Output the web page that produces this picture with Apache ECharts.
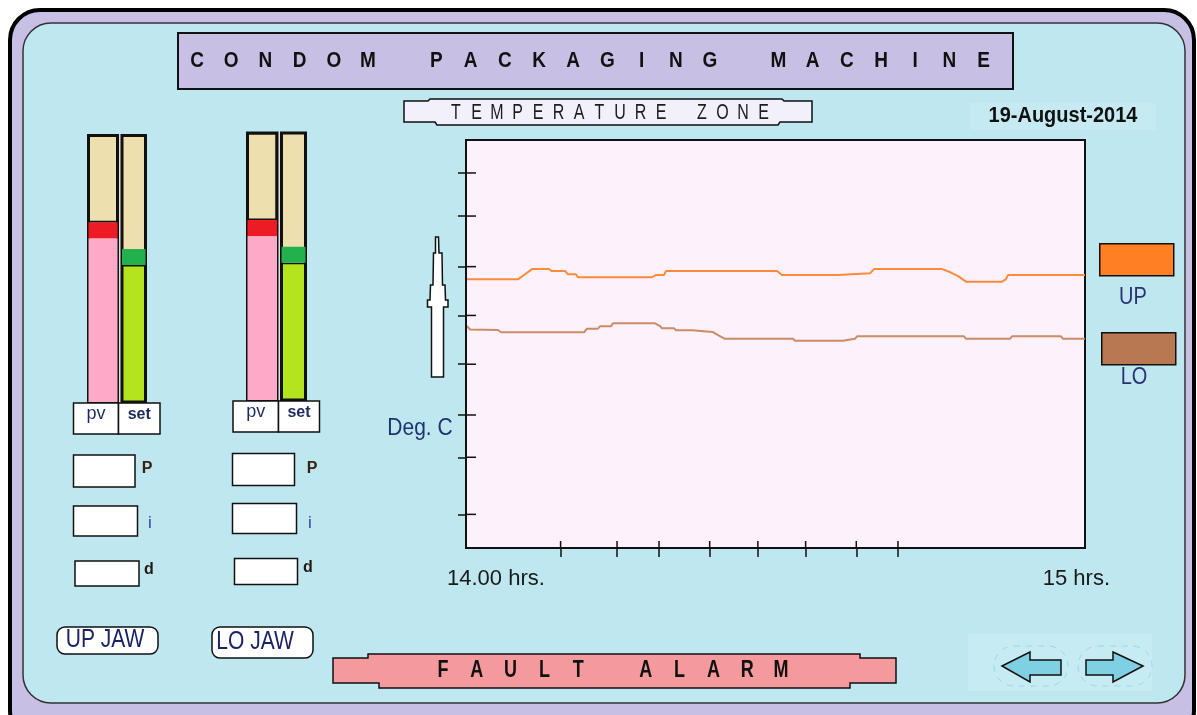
<!DOCTYPE html>
<html>
<head>
<meta charset="utf-8">
<script src="https://cdn.jsdelivr.net/npm/echarts@6/dist/echarts.min.js"></script>
<style>
html, body {margin:0; padding:0; background:#fff;}
#chart {width:1197px; height:715px;}
</style>
</head>
<body>
<div id="chart"></div>
<script>
// ---- data (minutes after 14.00 hrs, deg C) ----
const upTime = [0, 5.04, 5.62, 6.40, 8.05, 8.34, 9.60, 9.89, 10.66, 10.86, 18.03, 18.42, 19.19, 19.39, 30.15, 30.63, 36.06, 36.25, 39.16, 39.55, 46.14, 46.91, 47.69, 48.47, 51.96, 52.34, 52.54, 60];
const upTemp = [164.6, 164.6, 167.3, 170.9, 170.9, 169.7, 169.7, 167.7, 167.7, 165.9, 165.9, 167.3, 167.3, 169.7, 169.7, 167.3, 167.3, 168.3, 168.3, 170.9, 170.9, 169.1, 166.6, 163.2, 163.2, 164.8, 167.3, 167.3];
const loTime = [0.10, 0.39, 3.10, 3.39, 11.44, 11.73, 12.79, 12.99, 14.05, 14.25, 18.32, 18.82, 19.00, 20.16, 20.36, 21.91, 22.10, 23.94, 24.43, 25.10, 31.69, 31.89, 36.54, 36.73, 37.70, 37.90, 48.27, 48.47, 52.73, 52.92, 57.67, 57.87, 60];
const loTemp = [136.0, 133.9, 133.6, 132.2, 132.2, 134.4, 134.4, 135.8, 135.8, 137.7, 137.7, 136.0, 134.6, 134.6, 133.4, 133.4, 132.3, 132.3, 130.5, 128.2, 128.2, 127.0, 127.0, 128.2, 128.2, 129.7, 129.7, 128.2, 128.2, 129.7, 129.7, 128.2, 128.2];

const xTicks = [9.17, 14.64, 18.71, 23.62, 28.29, 32.92, 37.83, 41.87];
const yTicks = [20.6, 55.6, 81.5, 112.6, 142.5, 172.4, 203.4, 229.8];
const xLabels = ['14.00 hrs.', '15 hrs.'];
const seriesNames = ['UP', 'LO'];

// bar gauges: UP JAW, LO JAW
const jawNames = ['UP JAW', 'LO JAW'];
const pvValues = [168.6, 168.5];
const setValues = [143.5, 143.5];
const capSize = 15;
const gaugeMax = 250;

const FONT = '"Liberation Sans", Arial, sans-serif';
const chart = echarts.init(document.getElementById('chart'), null, {renderer: 'canvas'});

function txt(text, x, y, size, o) {
  o = o || {};
  return {
    type: 'text', x: x, y: y, z: 20, scaleY: o.sy || 1, silent: true,
    style: {
      text: text, fill: o.color || '#111', fontSize: size, fontFamily: FONT,
      fontWeight: o.weight || 'normal', align: o.align || 'center', verticalAlign: 'middle'
    }
  };
}
// text with wide letter spacing, one slot per char
function spaced(str, x0, pitch, y, size, o) {
  const out = [];
  str.split('').forEach((ch, i) => {
    if (ch !== ' ') out.push(txt(ch, x0 + i * pitch, y, size, o));
  });
  return out;
}
function box(x, y, w, h, fill, o) {
  o = o || {};
  return {
    type: 'rect', z: o.z == null ? 10 : o.z, silent: true,
    shape: {x: x, y: y, width: w, height: h, r: o.r || 0},
    style: {fill: fill, stroke: o.stroke === undefined ? '#111' : o.stroke, lineWidth: o.lw || 1.5, lineDash: o.dash || null}
  };
}
function poly(points, fill, o) {
  o = o || {};
  return {
    type: 'polygon', z: o.z == null ? 10 : o.z, silent: true,
    shape: {points: points},
    style: {fill: fill, stroke: o.stroke || '#111', lineWidth: o.lw || 1.5, lineDash: o.dash || null}
  };
}

// gauge column rects [left, top, width, height]
const gaugeRects = [[88.5, 135.5, 29, 266.5], [122, 135.5, 23.5, 266.5], [247.5, 133, 29.5, 267], [281.5, 133, 24, 267]];
const gaugeValues = [pvValues[0], setValues[0], pvValues[1], setValues[1]];

const plot = {left: 466, top: 140, width: 619, height: 408};
const grids = [
  Object.assign({show: false, outerBoundsMode: 'none', containLabel: false}, plot),
  {left: 447, top: 140, width: 663, height: 408, show: false, outerBoundsMode: 'none', containLabel: false}
];
const xAxes = [
  {gridIndex: 0, type: 'value', min: 0, max: 60, position: 'bottom', z: 6,
    axisLine: {show: true, lineStyle: {color: '#111', width: 2}},
    axisTick: {show: true, customValues: xTicks, length: 9, lineStyle: {color: '#111', width: 1.5}},
    axisLabel: {show: false}, splitLine: {show: false}},
  {gridIndex: 1, type: 'value', min: 0, max: 60, position: 'bottom', z: 6,
    axisLine: {show: false}, axisTick: {show: false}, splitLine: {show: false},
    axisLabel: {show: true, customValues: [0, 60], formatter: v => (v === 0 ? xLabels[0] : xLabels[1]),
      alignMinLabel: 'left', alignMaxLabel: 'right', margin: 20, fontSize: 22, color: '#1a1a1a', fontFamily: FONT}}
];
const yAxes = [
  {gridIndex: 0, type: 'value', min: 0, max: 250, position: 'left', z: 6,
    axisLine: {show: true, lineStyle: {color: '#111', width: 2}},
    axisTick: {show: true, customValues: yTicks, length: 8, lineStyle: {color: '#111', width: 1.5}},
    axisLabel: {show: false}, splitLine: {show: false}},
  {gridIndex: 1, type: 'value', min: 0, max: 1, show: false}
];

const series = [
  {name: seriesNames[0], type: 'line', xAxisIndex: 0, yAxisIndex: 0, symbol: 'none', silent: true, z: 4,
    data: upTime.map((t, i) => [t, upTemp[i]]), lineStyle: {color: '#ff8a3a', width: 2}, itemStyle: {color: '#ff8a3a'}},
  {name: seriesNames[1], type: 'line', xAxisIndex: 0, yAxisIndex: 0, symbol: 'none', silent: true, z: 4,
    data: loTime.map((t, i) => [t, loTemp[i]]), lineStyle: {color: '#cc8c68', width: 2}, itemStyle: {color: '#cc8c68'}}
];

// gauge grids, pv = pink/red, set = lime/green
gaugeRects.forEach((r, k) => {
  const isPv = k % 2 === 0;
  const gi = grids.length;
  const xi = xAxes.length;
  const yi = yAxes.length;
  grids.push({left: r[0], top: r[1], width: r[2], height: r[3], show: true, backgroundColor: '#eee0ae',
    borderColor: '#111', borderWidth: 3, outerBoundsMode: 'none', containLabel: false});
  xAxes.push({gridIndex: gi, type: 'category', data: [isPv ? 'pv' : 'set'], show: false});
  yAxes.push({gridIndex: gi, type: 'value', min: 0, max: gaugeMax, show: false});
  const v = gaugeValues[k];
  const common = {type: 'bar', xAxisIndex: xi, yAxisIndex: yi, stack: 'g' + k, barWidth: '100%', silent: true};
  series.push(Object.assign({}, common, {data: [v - capSize],
    itemStyle: {color: isPv ? '#ffaac8' : '#b4e41e', borderColor: '#111', borderWidth: isPv ? 0 : 1.5}}));
  series.push(Object.assign({}, common, {data: [capSize], itemStyle: {color: isPv ? '#ed1c24' : '#22b14c'}}));
  series.push(Object.assign({}, common, {data: [gaugeMax - v],
    itemStyle: {color: 'rgba(0,0,0,0)', borderColor: '#111', borderWidth: isPv ? 1.5 : 0}}));
});

const g = [];
// frame and panel
g.push(box(10, 10, 1184, 730, '#c8c0e4', {z: -20, lw: 4, stroke: '#000', r: 30}));
g.push(box(23, 23, 1162, 680, '#bee7f0', {z: -19, lw: 1.5, stroke: '#333', r: 28}));
g.push(box(970, 103, 186, 27, '#c5eaf2', {z: -18, stroke: null}));
g.push(box(968, 634, 184, 57, '#c6ebf3', {z: -18, stroke: null}));
g.push(box(117, 136, 5, 266, '#e2e2e2', {z: -5, stroke: null}));
g.push(box(276.5, 133, 5, 267, '#e2e2e2', {z: -5, stroke: null}));
// plot area background and frame
g.push(box(plot.left, plot.top, plot.width, plot.height, '#fdf1fb', {z: -15, lw: 2}));

// title
g.push(box(178, 33, 835, 56, '#c8c0e4', {lw: 2}));
g.push(...spaced('CONDOM PACKAGING MACHINE', 197, 34.2, 61, 19, {weight: 'bold', sy: 1.2, color: '#111'}));

// temperature zone banner
g.push(poly([[404, 101], [428, 101], [430, 99], [782, 99], [784, 101], [812, 101], [812, 122], [780, 122], [778, 125], [437, 125], [435, 122], [404, 122]], '#f2f0fa'));
g.push(...spaced('TEMPERATURE ZONE', 456, 20.5, 113, 16, {sy: 1.35, color: '#1c1c1c'}));

// date
g.push(txt('19-August-2014', 1063, 116, 20, {weight: 'bold', sy: 1.12}));

// up arrow and axis name
g.push(poly([[435.5, 237], [438.5, 237], [439, 253], [442, 253], [442.5, 285], [445, 285], [445.5, 300], [448, 300], [448, 307], [443.5, 307], [443.5, 377], [431.5, 377], [431.5, 307], [427.5, 307], [427.5, 300], [430, 300], [430.5, 285], [433, 285], [433.5, 253], [435.5, 253]], '#fff'));
g.push(txt('Deg. C', 420, 428, 21, {sy: 1.15, color: '#1e3470'}));

// legend labels
g.push(txt(seriesNames[0], 1133, 298, 20, {sy: 1.15, color: '#2a3275'}));
g.push(txt(seriesNames[1], 1134, 378, 20, {sy: 1.15, color: '#2a3275'}));

// pv / set boxes
[[73.5, 403, 118.5, 160], [233, 401, 278.5, 319.5]].forEach(b => {
  g.push(box(b[0], b[1], b[2] - b[0], 31, '#fff'));
  g.push(box(b[2], b[1], b[3] - b[2], 31, '#fff'));
  g.push(txt('pv', (b[0] + b[2]) / 2, b[1] + 11, 18, {color: '#1e2a5e'}));
  g.push(txt('set', (b[2] + b[3]) / 2, b[1] + 12, 16, {weight: 'bold', color: '#1e2a5e'}));
});

// PID boxes
[[73.5, 455, 61.5, 32], [73.5, 506, 64, 30], [75, 561, 64, 25]].forEach(b => g.push(box(b[0], b[1], b[2], b[3], '#fff')));
[[232.5, 453.5, 62, 32], [232.5, 503.5, 64, 30], [234.5, 558.5, 63, 26]].forEach(b => g.push(box(b[0], b[1], b[2], b[3], '#fff')));
g.push(txt('P', 147, 469, 16, {weight: 'bold', color: '#3a2210'}));
g.push(txt('i', 150, 523, 17, {color: '#3344aa'}));
g.push(txt('d', 149, 570, 16, {weight: 'bold', color: '#221a10'}));
g.push(txt('P', 312, 469, 16, {weight: 'bold', color: '#3a2210'}));
g.push(txt('i', 310, 523, 17, {color: '#3344aa'}));
g.push(txt('d', 308, 568, 16, {weight: 'bold', color: '#221a10'}));

// jaw buttons
g.push(box(57, 627, 101, 27, '#fff', {r: 8}));
g.push(txt(jawNames[0], 105, 640, 21, {sy: 1.2, color: '#1a2366'}));
g.push(box(212, 627, 101, 31, '#fff', {r: 8}));
g.push(txt(jawNames[1], 255, 642, 21, {sy: 1.2, color: '#1a2366'}));

// fault alarm banner
g.push(poly([[333, 658], [368, 658], [368, 654], [860, 654], [860, 658], [896, 658], [896, 683], [850, 683], [850, 688], [379, 688], [379, 683], [333, 683]], '#f59a9c'));
g.push(...spaced('FAULT ALARM', 443, 33.8, 671, 18, {weight: 'bold', sy: 1.3, color: '#111'}));

// navigation arrows
g.push(box(994, 646, 74, 40, 'rgba(0,0,0,0)', {stroke: '#9ad6e6', dash: [6, 6], r: 20, lw: 1}));
g.push(box(1078, 646, 74, 40, 'rgba(0,0,0,0)', {stroke: '#9ad6e6', dash: [6, 6], r: 20, lw: 1}));
g.push(poly([[1002, 666], [1030, 652], [1030, 660], [1061, 660], [1061, 675], [1030, 675], [1030, 682]], '#7fd0e2'));
g.push(poly([[1143, 666], [1113, 652], [1113, 660], [1086, 660], [1086, 675], [1113, 675], [1113, 682]], '#7fd0e2'));

const option = {
  animation: false,
  backgroundColor: '#ffffff',
  grid: grids,
  xAxis: xAxes,
  yAxis: yAxes,
  legend: [
    {data: [{name: seriesNames[0], icon: 'rect', itemStyle: {color: '#ff8022', borderColor: '#111', borderWidth: 1.5}}],
      left: 1099, top: 243, itemWidth: 74, itemHeight: 32, padding: 0, selectedMode: false, formatter: () => ''},
    {data: [{name: seriesNames[1], icon: 'rect', itemStyle: {color: '#b87852', borderColor: '#111', borderWidth: 1.5}}],
      left: 1101, top: 332, itemWidth: 74, itemHeight: 32, padding: 0, selectedMode: false, formatter: () => ''}
  ],
  graphic: {elements: g},
  series: series
};
chart.setOption(option);

// inner halves of the crossing ticks, placed through the grid's scales
function toPx(x, y) {
  let p = null;
  try { p = chart.convertToPixel({gridIndex: 0}, [x, y]); } catch (e) { p = null; }
  if (!p || !isFinite(p[0]) || !isFinite(p[1])) {
    // same linear mapping as the grid: x 0..60, y 0..250
    p = [plot.left + x / 60 * plot.width, plot.top + plot.height - y / 250 * plot.height];
  }
  return p;
}
const tickEls = [];
xTicks.forEach(v => {
  const p = toPx(v, 0);
  tickEls.push({type: 'line', z: 30, silent: true, shape: {x1: p[0], y1: p[1], x2: p[0], y2: p[1] - 7},
    style: {stroke: '#111', lineWidth: 1.5}});
});
yTicks.forEach(v => {
  const p = toPx(0, v);
  tickEls.push({type: 'line', z: 30, silent: true, shape: {x1: p[0], y1: p[1], x2: p[0] + 10, y2: p[1]},
    style: {stroke: '#111', lineWidth: 1.5}});
});
option.graphic = {elements: g.concat(tickEls)};
chart.clear();
chart.setOption(option);
</script>
</body>
</html>
